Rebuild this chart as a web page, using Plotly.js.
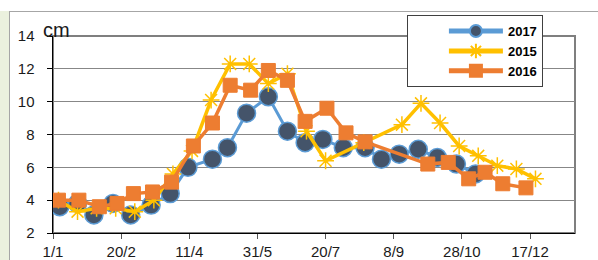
<!DOCTYPE html>
<html>
<head>
<meta charset="utf-8">
<script src="https://cdn.plot.ly/plotly-3.0.1.min.js"></script>
<style>
  html, body { margin: 0; padding: 0; background: #ffffff; }
  #wrap { position: relative; width: 598px; height: 260px; overflow: hidden; }
  #strip { position: absolute; left: 0; top: 11px; width: 9px; height: 249px; background: #ebf1de; }
  #frame { position: absolute; left: 9px; top: 11px; width: 589px; height: 249px;
           border-top: 1px solid #a6a6a6; border-left: 1px solid #a6a6a6; box-sizing: border-box; }
  #chart { position: absolute; left: 0; top: 0; width: 598px; height: 260px; }
</style>
</head>
<body>
<div id="wrap">
  <div id="strip"></div>
  <div id="frame"></div>
  <div id="chart"></div>
</div>
<script>
// ---- data ----
const dates2017 = ['2017-01-06','2017-01-19','2017-01-31','2017-02-14','2017-02-27','2017-03-14','2017-03-28',
  '2017-04-10','2017-04-28','2017-05-09','2017-05-23','2017-06-08','2017-06-22','2017-07-05','2017-07-18',
  '2017-08-02','2017-08-18','2017-08-30','2017-09-12','2017-09-26','2017-10-10','2017-10-24','2017-11-07'];
const values2017 = [3.6, 3.8, 3.1, 3.8, 3.1, 3.7, 4.4, 6.0, 6.5, 7.2, 9.3, 10.3, 8.2, 7.5, 7.7,
  7.2, 7.2, 6.5, 6.8, 7.1, 6.6, 6.2, 5.6];

const dates2015 = ['2017-01-05','2017-01-19','2017-02-02','2017-02-16','2017-03-02','2017-03-16','2017-03-30',
  '2017-04-13','2017-04-27','2017-05-11','2017-05-25','2017-06-08','2017-06-22','2017-07-06','2017-07-20',
  '2017-08-17','2017-09-14','2017-09-28','2017-10-12','2017-10-26','2017-11-09','2017-11-23','2017-12-07','2017-12-21'];
const values2015 = [4.0, 3.3, 3.5, 3.5, 3.3, 4.0, 5.6, 7.0, 10.1, 12.3, 12.3, 11.1, 11.7, 8.2, 6.4,
  7.5, 8.6, 9.9, 8.7, 7.3, 6.7, 6.1, 5.9, 5.3];

const dates2016 = ['2017-01-05','2017-01-20','2017-02-04','2017-02-17','2017-03-01','2017-03-15','2017-03-29',
  '2017-04-14','2017-04-28','2017-05-11','2017-05-26','2017-06-08','2017-06-22','2017-07-05','2017-07-21',
  '2017-08-04','2017-08-18','2017-10-03','2017-10-18','2017-11-02','2017-11-14','2017-11-27','2017-12-14'];
const values2016 = [4.0, 4.0, 3.6, 3.8, 4.4, 4.5, 5.1, 7.3, 8.7, 11.0, 10.7, 11.9, 11.3, 8.8, 9.6,
  8.1, 7.55, 6.2, 6.3, 5.3, 5.7, 5.0, 4.75];

const xTickDates = ['2017-01-01','2017-02-20','2017-04-11','2017-05-31','2017-07-20','2017-09-08','2017-10-28','2017-12-17'];
const xTickLabels = ['1/1','20/2','11/4','31/5','20/7','8/9','28/10','17/12'];
const yTickVals = [2, 4, 6, 8, 10, 12, 14];
const yTickLabels = ['2', '4', '6', '8', '10', '12', '14'];
const unitLabel = 'cm';

const FONT = '"Liberation Sans", Arial, sans-serif';

const traces = [
  { x: dates2017, y: values2017, name: '2017', type: 'scatter', mode: 'lines+markers',
    line: { color: '#5b9bd5', width: 3 },
    marker: { symbol: 'circle', size: 18, color: '#44546a', line: { color: '#5b9bd5', width: 1.5 } } },
  { x: dates2015, y: values2015, name: '2015', type: 'scatter', mode: 'lines+markers',
    line: { color: '#ffc000', width: 3.5 },
    marker: { symbol: 'asterisk-open', size: 14, color: '#ffc000', line: { color: '#ffc000', width: 1.5 } } },
  { x: dates2016, y: values2016, name: '2016', type: 'scatter', mode: 'lines+markers',
    line: { color: '#ed7d31', width: 3.5 },
    marker: { symbol: 'square', size: 14, color: '#ed7d31', line: { color: '#ed7d31', width: 1 } } }
];

const layout = {
  width: 598, height: 260,
  margin: { l: 53, r: 23, t: 36, b: 27, pad: 0 },
  paper_bgcolor: 'rgba(0,0,0,0)',
  plot_bgcolor: '#ffffff',
  font: { family: FONT, size: 15, color: '#1a1a1a' },
  showlegend: true,
  legend: {
    x: 0.678, y: 1.106, xanchor: 'left', yanchor: 'top',
    bgcolor: '#ffffff', bordercolor: '#404040', borderwidth: 1,
    font: { family: FONT, size: 13, color: '#000000', weight: 'bold' },
    itemsizing: 'constant', itemwidth: 54, entrywidth: 114, indentation: 36, tracegroupgap: 0
  },
  xaxis: {
    type: 'date',
    range: ['2017-01-01', '2018-01-19'],
    tickmode: 'array', tickvals: xTickDates, ticktext: xTickLabels,
    showgrid: false, zeroline: false,
    showline: true, linecolor: '#000000', linewidth: 1,
    ticks: 'outside', ticklen: 5, tickcolor: '#555555', tickwidth: 1,
    tickfont: { family: FONT, size: 15, color: '#1a1a1a' },
    fixedrange: true
  },
  yaxis: {
    range: [2, 14],
    tickmode: 'array', tickvals: yTickVals, ticktext: yTickLabels,
    showgrid: true, gridcolor: '#878787', gridwidth: 1, zeroline: false,
    showline: true, linecolor: '#000000', linewidth: 1.5,
    ticks: 'outside', ticklen: 5, tickcolor: '#000000', tickwidth: 1,
    ticklabelstandoff: 9,
    tickfont: { family: FONT, size: 15, color: '#1a1a1a' },
    fixedrange: true
  },
  shapes: [
    { type: 'rect', xref: 'paper', yref: 'paper', x0: 0, x1: 1, y0: 0, y1: 1,
      line: { color: '#7f7f7f', width: 2 }, fillcolor: 'rgba(0,0,0,0)', layer: 'below' }
  ],
  annotations: [
    { text: unitLabel, xref: 'paper', yref: 'paper', x: -0.023, y: 1.030,
      xanchor: 'left', yanchor: 'middle', showarrow: false,
      font: { family: FONT, size: 20, color: '#1a1a1a' } }
  ]
};

Plotly.newPlot('chart', traces, layout, { displayModeBar: false, staticPlot: true });
</script>
</body>
</html>
